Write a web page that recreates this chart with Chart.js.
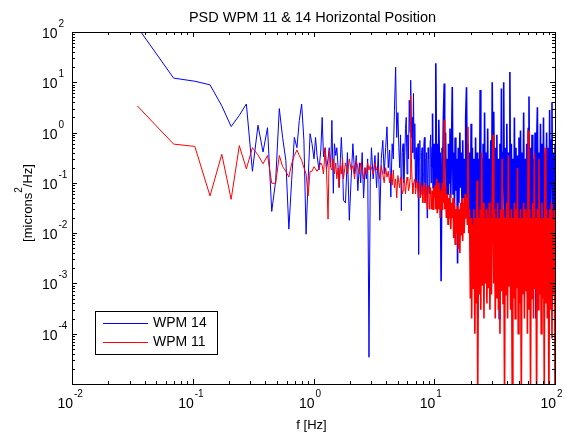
<!DOCTYPE html>
<html>
<head>
<meta charset="utf-8">
<script src="https://cdn.jsdelivr.net/npm/chart.js@4.4.0/dist/chart.umd.min.js"></script>
<style>
  html, body { margin: 0; padding: 0; background: #fff; }
</style>
</head>
<body>
<canvas id="psdChart" width="566" height="433"></canvas>
<script>
// frequency bins [Hz] shared by both sensors
const freqHz = [
  0.0347, 0.0694, 0.104, 0.139, 0.174, 0.208, 0.243, 0.278, 0.312, 0.347,
  0.382, 0.416, 0.451, 0.486, 0.521, 0.555, 0.590, 0.625, 0.659, 0.694,
  0.729, 0.763, 0.798, 0.833, 0.868, 0.902, 0.937, 0.972, 1.01, 1.04,
  1.07, 1.11, 1.15, 1.18, 1.21, 1.25, 1.28, 1.32, 1.35, 1.39,
  1.42, 1.46, 1.49, 1.53, 1.56, 1.60, 1.63, 1.67, 1.70, 1.74, 1.77,
  1.84, 1.91, 1.98, 2.05, 2.12, 2.19, 2.26, 2.33, 2.40, 2.46,
  2.53, 2.60, 2.67, 2.74, 2.81, 2.88, 2.95, 3.02,
  3.12, 3.23, 3.33, 3.44, 3.54, 3.64, 3.75, 3.85, 3.96, 4.06,
  4.16, 4.27, 4.37, 4.48, 4.58, 4.68, 4.79, 4.89, 5.00,
  5.09, 5.17, 5.26, 5.34, 5.43, 5.52, 5.60, 5.69, 5.78, 5.86,
  5.95, 6.04, 6.12, 6.21, 6.30, 6.38, 6.47, 6.56, 6.64, 6.73,
  6.82, 6.90, 6.99, 7.08, 7.16, 7.25, 7.34, 7.42, 7.51, 7.60,
  7.68, 7.77, 7.86, 7.94, 8.03, 8.12, 8.20, 8.29, 8.38, 8.47,
  8.55, 8.64, 8.73, 8.81, 8.90, 8.99, 9.07, 9.16, 9.25, 9.33,
  9.42, 9.51, 9.59, 9.68, 9.77, 9.85, 9.94, 10.0,
  10.2, 10.3, 10.5, 10.6, 10.8, 10.9, 11.1, 11.2, 11.4, 11.6,
  11.7, 11.9, 12.1, 12.2, 12.4, 12.6, 12.8, 13.0, 13.1, 13.3,
  13.5, 13.7, 13.9, 14.1, 14.3, 14.5, 14.7, 14.9, 15.1, 15.4,
  15.6, 15.8, 16.0, 16.3, 16.5, 16.7, 17.0, 17.2, 17.5, 17.7,
  18.0, 18.2, 18.5, 18.8, 19.0, 19.3, 19.6, 19.9, 20.2, 20.4,
  20.7, 21.0, 21.3, 21.7, 22.0, 22.3, 22.6, 22.9, 23.3, 23.6,
  24.0, 24.3, 24.7, 25.0, 25.4, 25.8, 26.1, 26.5, 26.9, 27.3,
  27.7, 28.1, 28.5, 28.9, 29.4, 29.8, 30.2, 30.7, 31.1, 31.6,
  32.0, 32.5, 33.0, 33.5, 34.0, 34.5, 35.0, 35.5, 36.0, 36.5,
  37.1, 37.6, 38.2, 38.7, 39.3, 39.9, 40.5, 41.1, 41.7, 42.3,
  42.9, 43.5, 44.2, 44.8, 45.5, 46.1, 46.8, 47.5, 48.2, 48.9,
  49.6, 50.3, 51.1, 51.8, 52.6, 53.4, 54.2, 55.0, 55.8, 56.6,
  57.4, 58.3, 59.1, 60.0, 60.9, 61.8, 62.7, 63.6, 64.5, 65.5,
  66.4, 67.4, 68.4, 69.4, 70.4, 71.5, 72.5, 73.6, 74.7, 75.8,
  76.9, 78.0, 79.2, 80.3, 81.5, 82.7, 83.9, 85.2, 86.4, 87.7,
  89.0, 90.3, 91.6, 93.0, 94.4, 95.8, 97.2, 98.6, 100
];

// WPM 14 PSD [microns^2/Hz]
const wpm14 = [
  127, 12.1, 10.5, 8.9, 3.4, 1.32, 2.2, 3.7, 0.17, 1.4,
  0.41, 1.25, 0.027, 0.11, 3.0, 0.8, 0.28, 0.012, 0.11, 0.8,
  0.5, 1.75, 3.7, 0.7, 0.0095, 0.11, 0.95, 0.6, 0.3, 0.8,
  0.35, 0.18, 0.45, 2.0, 0.33, 0.5, 0.18, 0.3, 0.5, 0.21,
  1.75, 0.062, 0.6, 0.35, 0.5, 0.2, 0.082, 0.3, 0.8, 0.25, 0.045,
  0.04, 0.4, 0.018, 0.12, 0.6, 0.15, 0.35, 0.07, 0.25, 0.1,
  0.4, 0.05, 0.2, 0.12, 0.3, 0.000034, 0.1, 0.5,
  0.12, 0.35, 0.08, 0.4, 0.018, 0.3, 0.7, 0.15, 0.5, 1.3,
  0.2, 0.45, 0.052, 0.6, 0.3, 2.8, 20, 0.8, 2.5,
  0.5, 0.2, 0.9, 0.028, 0.4, 0.6, 0.1, 0.3, 1.2, 2.0,
  0.15, 0.9, 0.3, 4.4, 1.0, 11, 0.8, 2.0, 0.4, 6,
  0.3, 1.5, 0.08, 0.5, 0.1, 0.25, 0.6, 0.0038, 0.3, 0.7,
  0.05, 0.09, 0.4, 0.5, 0.06, 0.15, 0.6, 0.8, 0.1, 0.05,
  0.3, 0.4, 0.02, 0.12, 0.5, 0.3, 0.07, 0.06, 0.7, 0.9,
  0.1, 0.2, 0.5, 2.4, 0.08, 0.15, 0.4, 0.6,
  0.08, 24, 0.03, 0.6, 0.05, 1.8, 0.1, 0.4, 0.0011, 0.5,
  0.07, 2.0, 9.5, 0.2, 1.0, 0.04, 0.3, 0.06, 0.6, 0.1,
  1.2, 0.05, 0.5, 8.1, 0.06, 0.4, 0.03, 0.8, 0.07, 0.3,
  0.0025, 0.5, 0.04, 1.0, 0.08, 0.4, 0.03, 0.7, 0.05, 0.3,
  0.02, 2.0, 8.0, 0.05, 0.6, 0.02, 0.4, 0.008, 1.5, 0.01,
  0.5, 0.006, 0.3, 0.01, 0.8, 0.01, 0.4, 0.0002, 0.3, 0.005,
  7.0, 0.012, 0.3, 0.007, 0.6, 0.004, 2.5, 0.01, 0.4, 0.006,
  1.2, 0.008, 0.3, 0.01, 0.7, 0.006, 10, 0.04, 2.6, 0.007,
  0.5, 0.01, 0.9, 0.005, 0.3, 0.0002, 0.6, 0.008, 7.5, 0.01,
  0.4, 10, 0.006, 0.5, 0.01, 1.5, 0.007, 0.4, 0.005, 16,
  0.008, 0.6, 0.01, 0.3, 0.004, 2.0, 0.008, 0.5, 0.01, 0.35,
  0.006, 0.8, 0.009, 1.1, 0.005, 0.4, 0.01, 2.5, 0.007, 0.3,
  0.004, 0.6, 0.01, 1.2, 5.2, 0.008, 0.5, 0.005, 0.9, 0.01,
  0.3, 0.006, 1.0, 0.0002, 0.5, 3.2, 0.008, 0.4, 0.005, 1.5,
  0.009, 0.6, 0.006, 2.0, 0.01, 0.4, 0.004, 1.0, 0.008, 0.5,
  0.006, 2.8, 0.01, 0.7, 4.0, 0.005, 0.4, 0.008, 0.6
];

// WPM 11 PSD [microns^2/Hz]
const wpm11 = [
  3.4, 0.59, 0.53, 0.055, 0.37, 0.047, 0.55, 0.19, 0.5, 0.36,
  0.24, 0.35, 0.098, 0.098, 0.35, 0.21, 0.17, 0.13, 0.24, 0.35,
  0.45, 0.35, 0.28, 0.2, 0.15, 0.055, 0.17, 0.17, 0.21, 0.19,
  0.17, 0.2, 0.25, 0.22, 0.15, 0.5, 0.2, 0.019, 0.45, 0.2,
  0.18, 0.3, 0.15, 0.25, 0.12, 0.2, 0.08, 0.22, 0.15, 0.3, 0.12,
  0.25, 0.15, 0.3, 0.18, 0.22, 0.12, 0.28, 0.2, 0.15, 0.25,
  0.18, 0.12, 0.2, 0.15, 0.25, 0.18, 0.22, 0.2,
  0.15, 0.25, 0.18, 0.2, 0.12, 0.22, 0.15, 0.1, 0.2, 0.13,
  0.17, 0.1, 0.15, 0.09, 0.18, 0.08, 0.12, 0.05, 0.14,
  0.1, 0.08, 0.13, 0.12, 0.06, 0.07, 0.12, 0.1, 0.06, 0.09,
  0.13, 0.11, 0.07, 0.08, 0.12, 5.5, 0.3, 0.1, 0.06, 0.09,
  0.11, 0.12, 0.06, 0.08, 0.11, 0.1, 0.05, 0.07, 0.1, 0.09,
  0.05, 0.06, 0.09, 0.08, 0.04, 0.05, 0.1, 0.09, 0.04, 0.04,
  0.08, 0.07, 0.03, 0.05, 0.09, 0.08, 0.03, 0.04, 0.08, 0.06,
  0.03, 0.03, 0.07, 0.07, 0.03, 0.04, 0.08, 0.06,
  0.09, 0.03, 0.12, 0.025, 0.1, 0.03, 0.08, 0.02, 0.07, 0.03,
  0.1, 0.04, 1.8, 0.03, 0.09, 0.02, 0.06, 0.015, 0.05, 0.02,
  0.06, 0.012, 0.04, 0.02, 0.05, 0.008, 0.04, 0.006, 0.03, 0.01,
  0.035, 0.005, 0.03, 0.004, 0.04, 0.009, 0.05, 0.007, 0.04, 0.01,
  0.06, 0.02, 0.05, 0.015, 1.3, 0.01, 0.03, 0.0005, 0.02, 0.0002,
  0.015, 0.0008, 0.03, 0.0001, 0.02, 0.0004, 0.11, 0.000005, 0.02, 0.0006,
  0.03, 0.0003, 0.4, 0.0009, 0.04, 0.0002, 0.02, 0.001, 0.03, 0.0004,
  0.02, 0.0008, 0.04, 0.0003, 0.02, 0.0006, 0.03, 0.9, 0.001, 0.03,
  0.0002, 0.02, 0.0005, 0.04, 0.0003, 0.02, 0.0001, 0.03, 0.0007, 0.3,
  0.0004, 0.03, 0.000005, 0.02, 0.0006, 0.04, 0.0002, 0.35, 0.0009, 0.02,
  0.0003, 0.03, 0.00001, 0.02, 0.0005, 0.04, 0.0002, 0.03, 0.0008, 0.2,
  0.0001, 0.02, 0.0004, 0.03, 0.000005, 0.02, 0.0006, 0.04, 0.0002, 0.03,
  0.0007, 0.02, 0.0001, 1.1, 0.0003, 0.03, 0.00001, 0.02, 0.0005, 0.04,
  0.0002, 0.4, 0.0008, 0.02, 0.000005, 0.03, 0.0003, 0.3, 0.0006, 0.02,
  0.0001, 0.04, 0.0005, 0.02, 0.00001, 0.5, 0.0004, 0.03, 0.0002, 0.02,
  0.000005, 0.03, 0.0003, 0.04, 0.00008, 0.02, 0.0006, 0.03, 0.000005
];

// axis decades (labels shown as 10^n) and minor tick multipliers
const xDecades = [-2, -1, 0, 1, 2];
const yDecades = [-5, -4, -3, -2, -1, 0, 1, 2];
const yLabelDecades = [-4, -3, -2, -1, 0, 1, 2];
const minorSteps = [2, 3, 4, 5, 6, 7, 8, 9];

const titleText = "PSD WPM 11 & 14 Horizontal Position";
const xTitle = "f [Hz]";
const FONT = '"Liberation Sans", Arial, Helvetica, sans-serif';

function drawPower(ctx, exp, x, y) {
  ctx.font = `14px ${FONT}`;
  ctx.textAlign = "right";
  ctx.fillText("10", x, y);
  ctx.font = `10px ${FONT}`;
  ctx.textAlign = "left";
  ctx.fillText(String(exp), x + 1, y - 11);
}

const matlabAxes = {
  id: "matlabAxes",
  afterDatasetsDraw(chart) {
    const { ctx, chartArea: a, scales } = chart;
    const xs = scales.x;
    const ys = scales.y;
    ctx.save();
    ctx.strokeStyle = "#000";
    ctx.fillStyle = "#000";
    ctx.lineWidth = 1;

    // box
    ctx.strokeRect(a.left + 0.5, a.top + 0.5, a.right - a.left, a.bottom - a.top);

    // ticks, inside the box on all four sides
    ctx.beginPath();
    xDecades.forEach((d) => {
      const steps = d < xDecades[xDecades.length - 1] ? [1, ...minorSteps] : [1];
      steps.forEach((m) => {
        const px = Math.round(xs.getPixelForValue(m * Math.pow(10, d))) + 0.5;
        const len = m === 1 ? 5 : 3;
        ctx.moveTo(px, a.bottom);
        ctx.lineTo(px, a.bottom - len);
        ctx.moveTo(px, a.top);
        ctx.lineTo(px, a.top + len);
      });
    });
    yDecades.forEach((d) => {
      const steps = d < yDecades[yDecades.length - 1] ? [1, ...minorSteps] : [1];
      steps.forEach((m) => {
        const py = Math.round(ys.getPixelForValue(m * Math.pow(10, d))) + 0.5;
        const len = m === 1 ? 5 : 3;
        ctx.moveTo(a.left, py);
        ctx.lineTo(a.left + len, py);
        ctx.moveTo(a.right, py);
        ctx.lineTo(a.right - len, py);
      });
    });
    ctx.stroke();

    // tick labels
    ctx.textBaseline = "alphabetic";
    xDecades.forEach((d) => {
      const px = xs.getPixelForValue(Math.pow(10, d));
      drawPower(ctx, d, px + 1, a.bottom + 24);
    });
    yLabelDecades.forEach((d) => {
      const py = ys.getPixelForValue(Math.pow(10, d));
      drawPower(ctx, d, a.left - 14.5, py + 6);
    });

    // title and axis labels
    const cx = (a.left + a.right) / 2;
    ctx.font = `14.5px ${FONT}`;
    ctx.textAlign = "center";
    ctx.fillText(titleText, cx - 1, a.top - 10);
    ctx.font = `13px ${FONT}`;
    ctx.fillText(xTitle, cx - 2, a.bottom + 45);

    ctx.save();
    ctx.translate(32, (a.top + a.bottom) / 2 - 5);
    ctx.rotate(-Math.PI / 2);
    ctx.textAlign = "left";
    const p1 = "[microns", p2 = "2", p3 = "/Hz]";
    ctx.font = `13px ${FONT}`;
    const w1 = ctx.measureText(p1).width;
    const w3 = ctx.measureText(p3).width;
    ctx.font = `10px ${FONT}`;
    const w2 = ctx.measureText(p2).width;
    let tx = -(w1 + w2 + w3) / 2;
    ctx.font = `13px ${FONT}`;
    ctx.fillText(p1, tx, 0);
    ctx.font = `10px ${FONT}`;
    ctx.fillText(p2, tx + w1, -10);
    ctx.font = `13px ${FONT}`;
    ctx.fillText(p3, tx + w1 + w2, 0);
    ctx.restore();

    // legend box, lower left
    const lx = a.left + 23, ly = a.top + 279, lw = 122, lh = 43;
    ctx.fillStyle = "#fff";
    ctx.fillRect(lx, ly, lw, lh);
    ctx.strokeStyle = "#000";
    ctx.strokeRect(lx + 0.5, ly + 0.5, lw, lh);
    ctx.font = `14px ${FONT}`;
    ctx.textAlign = "left";
    ctx.textBaseline = "middle";
    chart.data.datasets.forEach((ds, i) => {
      const rowY = ly + 12.5 + i * 19;
      ctx.strokeStyle = ds.borderColor;
      ctx.lineWidth = 1;
      ctx.beginPath();
      ctx.moveTo(lx + 8, rowY);
      ctx.lineTo(lx + 53, rowY);
      ctx.stroke();
      ctx.fillStyle = "#000";
      ctx.fillText(ds.label, lx + 58, rowY);
    });
    ctx.restore();
  }
};

// above ~10 Hz the real spectrum has dozens of bins per pixel, so the trace reads as a solid band
const denseWidth = (c) => (c.p0.parsed.x >= 9.5 ? 1.6 : 1);

const ctx = document.getElementById("psdChart").getContext("2d");
new Chart(ctx, {
  type: "line",
  data: {
    datasets: [
      {
        label: "WPM 14",
        data: freqHz.map((f, i) => ({ x: f, y: wpm14[i] })),
        borderColor: "#0000ff",
        borderWidth: 1,
        segment: { borderWidth: denseWidth },
        pointRadius: 0,
        tension: 0,
        order: 2
      },
      {
        label: "WPM 11",
        data: freqHz.map((f, i) => ({ x: f, y: wpm11[i] })),
        borderColor: "#ff0000",
        borderWidth: 1,
        segment: { borderWidth: denseWidth },
        pointRadius: 0,
        tension: 0,
        order: 1
      }
    ]
  },
  options: {
    responsive: false,
    animation: false,
    devicePixelRatio: 1,
    events: [],
    layout: { padding: { left: 72, top: 32, right: 11, bottom: 49 } },
    plugins: {
      legend: { display: false },
      tooltip: { enabled: false }
    },
    scales: {
      x: { type: "logarithmic", min: 0.01, max: 100, display: false },
      y: { type: "logarithmic", min: 1e-5, max: 100, display: false }
    }
  },
  plugins: [matlabAxes]
});
</script>
</body>
</html>
